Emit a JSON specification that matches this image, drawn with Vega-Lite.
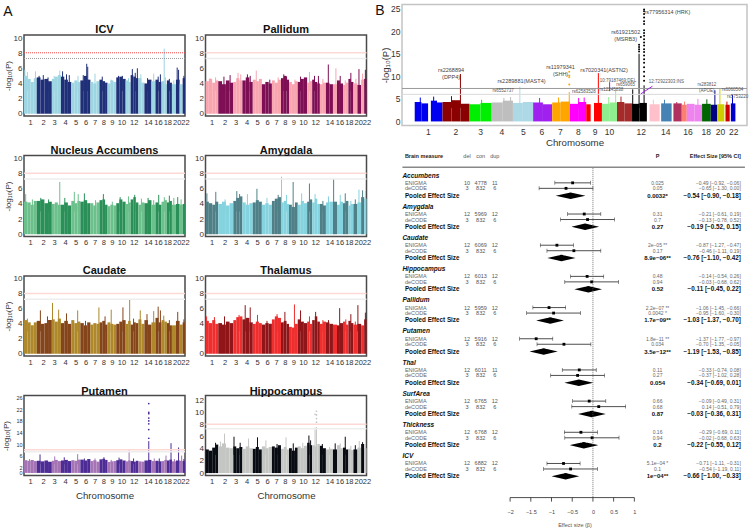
{"$schema":"https://vega.github.io/schema/vega-lite/v6.json","padding":{"left":2,"top":3.5,"right":0,"bottom":0},"background":"white","config":{"font":"Liberation Sans","view":{"stroke":"#4a4a4a","strokeWidth":1.5},"title":{"fontSize":11,"fontWeight":"bold","color":"#111","offset":-1,"anchor":"middle"},"axis":{"grid":false,"domain":false,"ticks":false,"labelFontSize":8,"labelColor":"#333","labelPadding":2,"titleFontWeight":"normal","titleColor":"#333","titleFontSize":8,"labelBound":false,"labelFlush":false}},"datasets":{"chrs":[{"chr":1,"s":0,"e":60,"I":5,"P":4.3,"N":4.3,"A":4.3,"C":4.5,"T":4.4,"U":4.4,"H":3.9},{"chr":1,"s":60,"e":120,"I":4.6,"P":4.6,"N":4.2,"A":4.1,"C":4.2,"T":4.1,"U":4.2,"H":3.7},{"chr":1,"s":120,"e":175,"I":4.2,"P":4.1,"N":3.9,"A":3.9,"C":3.8,"T":4.5,"U":4.5,"H":4.2},{"chr":1,"s":175,"e":228,"I":4.7,"P":4.4,"N":4.4,"A":4.3,"C":4.2,"T":4,"U":4.1,"H":4.7},{"chr":2,"s":228,"e":295,"I":4.8,"P":4.3,"N":4.4,"A":4,"C":4.4,"T":4.1,"U":4.2,"H":4.4},{"chr":2,"s":295,"e":365,"I":4.5,"P":3.9,"N":4.6,"A":4.3,"C":4,"T":3.9,"U":4,"H":4.9},{"chr":2,"s":365,"e":430,"I":4.6,"P":4.4,"N":4.1,"A":3.8,"C":4.1,"T":4.3,"U":4.3,"H":4.2},{"chr":2,"s":430,"e":498,"I":4.3,"P":4.1,"N":4.3,"A":4.1,"C":4.5,"T":4.1,"U":3.9,"H":4.1},{"chr":3,"s":498,"e":550,"I":4.6,"P":4.2,"N":4,"A":4.4,"C":4.6,"T":4.5,"U":4.2,"H":4.4},{"chr":3,"s":550,"e":605,"I":4.9,"P":4.7,"N":4.2,"A":4.8,"C":4.3,"T":4.9,"U":4.5,"H":4.1},{"chr":3,"s":605,"e":660,"I":5.1,"P":4.4,"N":3.9,"A":5,"C":4.7,"T":5,"U":4.1,"H":4.3},{"chr":4,"s":660,"e":720,"I":4.9,"P":4.4,"N":3.9,"A":4.2,"C":4.1,"T":4.6,"U":4.3,"H":4},{"chr":4,"s":720,"e":785,"I":4.5,"P":4.8,"N":4.2,"A":3.9,"C":4.4,"T":4.8,"U":4.5,"H":4.4},{"chr":4,"s":785,"e":846,"I":4.2,"P":4.2,"N":3.8,"A":4.1,"C":4,"T":4.2,"U":4.1,"H":4.1},{"chr":5,"s":846,"e":900,"I":4.1,"P":4.5,"N":4.4,"A":4.2,"C":4.5,"T":4,"U":4.4,"H":4},{"chr":5,"s":900,"e":955,"I":4.4,"P":4.3,"N":4.1,"A":4.5,"C":4.1,"T":4.3,"U":4.2,"H":4.3},{"chr":5,"s":955,"e":1008,"I":4.2,"P":4.6,"N":4.4,"A":4.3,"C":4.3,"T":4.1,"U":4.6,"H":3.9},{"chr":6,"s":1008,"e":1070,"I":4.4,"P":3.9,"N":4.3,"A":3.9,"C":4.1,"T":3.9,"U":4.6,"H":4.4},{"chr":6,"s":1070,"e":1130,"I":5,"P":4.2,"N":4.5,"A":4.1,"C":3.8,"T":4.1,"U":4.3,"H":4.1},{"chr":6,"s":1130,"e":1188,"I":4.5,"P":4,"N":4.1,"A":3.9,"C":4.2,"T":4,"U":4.8,"H":4.3},{"chr":7,"s":1188,"e":1240,"I":4.2,"P":4.4,"N":4.1,"A":4.4,"C":3.9,"T":4.6,"U":4.1,"H":4.4},{"chr":7,"s":1240,"e":1295,"I":4,"P":4.1,"N":3.8,"A":4.7,"C":4.1,"T":5,"U":4.4,"H":4.2},{"chr":7,"s":1295,"e":1350,"I":4.3,"P":4.5,"N":4.2,"A":4.9,"C":4,"T":4.8,"U":3.9,"H":4.6},{"chr":8,"s":1350,"e":1400,"I":4.5,"P":4.7,"N":4.5,"A":4.2,"C":4.2,"T":4.2,"U":4.7,"H":4},{"chr":8,"s":1400,"e":1450,"I":4.3,"P":5,"N":4.6,"A":4.4,"C":4.4,"T":4.4,"U":4.9,"H":4.3},{"chr":8,"s":1450,"e":1494,"I":4.1,"P":4.5,"N":3.9,"A":4,"C":3.9,"T":4,"U":4.5,"H":3.9},{"chr":9,"s":1494,"e":1545,"I":4,"P":4.2,"N":3.7,"A":3.9,"C":4.2,"T":3.6,"U":3.8,"H":4.1},{"chr":9,"s":1545,"e":1600,"I":4.4,"P":3.9,"N":3.9,"A":3.6,"C":4,"T":3.5,"U":4,"H":3.7},{"chr":9,"s":1600,"e":1650,"I":4.2,"P":4.3,"N":3.8,"A":4.2,"C":3.9,"T":4,"U":4.1,"H":4.2},{"chr":10,"s":1650,"e":1705,"I":4.8,"P":4.2,"N":4.1,"A":3.9,"C":4,"T":4.6,"U":4.4,"H":4.4},{"chr":10,"s":1705,"e":1760,"I":4.9,"P":4.6,"N":4.6,"A":4.4,"C":4.3,"T":4.3,"U":4.7,"H":4.1},{"chr":10,"s":1760,"e":1818,"I":4.6,"P":4.8,"N":4.3,"A":4.1,"C":4.5,"T":4.1,"U":4.3,"H":4.5},{"chr":11,"s":1818,"e":1862,"I":4.4,"P":4.1,"N":4,"A":4.3,"C":4,"T":4.3,"U":4,"H":5},{"chr":11,"s":1862,"e":1908,"I":4.2,"P":4.3,"N":4.2,"A":4.6,"C":4.4,"T":4,"U":4.3,"H":4.6},{"chr":12,"s":1908,"e":1955,"I":5.1,"P":4.5,"N":4.6,"A":4.2,"C":3.9,"T":4.5,"U":4.1,"H":4.6},{"chr":12,"s":1955,"e":2000,"I":4.9,"P":4.2,"N":4.9,"A":4.7,"C":4.2,"T":5,"U":3.9,"H":4.4},{"chr":12,"s":2000,"e":2046,"I":4.7,"P":4,"N":4.2,"A":4,"C":4.1,"T":4.3,"U":4.2,"H":4.8},{"chr":13,"s":2046,"e":2100,"I":4.7,"P":3.9,"N":3.9,"A":4,"C":4.6,"T":4,"U":4,"H":4.5},{"chr":13,"s":2100,"e":2154,"I":4.1,"P":4.1,"N":4.2,"A":3.8,"C":4,"T":4.3,"U":3.9,"H":4.1},{"chr":14,"s":2154,"e":2217,"I":4,"P":4.1,"N":4.1,"A":4.2,"C":4.5,"T":4.2,"U":4.3,"H":3.9},{"chr":14,"s":2217,"e":2280,"I":4.5,"P":3.9,"N":4.5,"A":4.3,"C":3.9,"T":4,"U":4.5,"H":4},{"chr":15,"s":2280,"e":2352,"I":4.3,"P":3.9,"N":3.9,"A":4.3,"C":4.2,"T":3.9,"U":4.1,"H":3.9},{"chr":16,"s":2352,"e":2405,"I":4.5,"P":4.4,"N":4.2,"A":3.9,"C":4.8,"T":3.8,"U":4.2,"H":4.6},{"chr":16,"s":2405,"e":2460,"I":4.2,"P":4,"N":3.9,"A":4.3,"C":4.2,"T":4.1,"U":4,"H":4.1},{"chr":17,"s":2460,"e":2510,"I":4.3,"P":3.8,"N":4.3,"A":4.1,"C":4.5,"T":4.3,"U":4.1,"H":4.2},{"chr":17,"s":2510,"e":2556,"I":3.9,"P":4.1,"N":4.5,"A":4.4,"C":4.3,"T":3.9,"U":4.5,"H":3.9},{"chr":18,"s":2556,"e":2600,"I":4.4,"P":4.6,"N":4.2,"A":3.8,"C":4.1,"T":4.4,"U":4.3,"H":4},{"chr":18,"s":2600,"e":2646,"I":4.1,"P":4.2,"N":4.4,"A":4,"C":3.8,"T":4.1,"U":4.6,"H":3.8},{"chr":19,"s":2646,"e":2718,"I":3.9,"P":4,"N":3.9,"A":4,"C":3.8,"T":3.9,"U":4,"H":3.9},{"chr":20,"s":2718,"e":2784,"I":4.5,"P":3.8,"N":4,"A":4.2,"C":4.4,"T":4,"U":4.3,"H":4.2},{"chr":21,"s":2784,"e":2838,"I":3.9,"P":4.5,"N":3.9,"A":4.9,"C":3.9,"T":3.8,"U":4.2,"H":4.8},{"chr":22,"s":2838,"e":2880,"I":4.7,"P":4.6,"N":4,"A":4.7,"C":4.2,"T":4.6,"U":4.1,"H":4.1}],"lines":[{"v":8.05,"k":"r"},{"v":7.3,"k":"g"}],"dI":[{"c":1,"x":15,"y":5.8},{"c":1,"x":60,"y":5.5},{"c":1,"x":205,"y":5.6},{"c":2,"x":270,"y":5},{"c":2,"x":345,"y":5.1},{"c":2,"x":430,"y":4.8},{"c":3,"x":540,"y":5},{"c":3,"x":640,"y":5.7},{"c":4,"x":690,"y":5.6},{"c":4,"x":760,"y":5.2},{"c":4,"x":810,"y":5.1},{"c":5,"x":966,"y":5},{"c":6,"x":1060,"y":5.1},{"c":6,"x":1122,"y":6.6},{"c":6,"x":1140,"y":6.2},{"c":7,"x":1270,"y":5.3},{"c":8,"x":1400,"y":4.9},{"c":9,"x":1560,"y":4.5},{"c":10,"x":1690,"y":5},{"c":10,"x":1760,"y":5},{"c":11,"x":1870,"y":4.7},{"c":12,"x":1938,"y":5.9},{"c":12,"x":1990,"y":5.4},{"c":12,"x":2028,"y":6},{"c":13,"x":2090,"y":5.2},{"c":14,"x":2210,"y":4.7},{"c":15,"x":2320,"y":5.3},{"c":16,"x":2400,"y":4.9},{"c":16,"x":2440,"y":5.2},{"c":17,"x":2508,"y":8.6},{"c":17,"x":2530,"y":4.8},{"c":18,"x":2600,"y":4.6},{"c":19,"x":2680,"y":4.4},{"c":20,"x":2740,"y":6.1},{"c":20,"x":2765,"y":5.8},{"c":22,"x":2860,"y":5}],"dP":[{"c":1,"x":80,"y":4.7},{"c":1,"x":180,"y":4.8},{"c":2,"x":330,"y":4.9},{"c":2,"x":440,"y":5.1},{"c":3,"x":582,"y":5.4},{"c":3,"x":630,"y":5.2},{"c":4,"x":750,"y":5.2},{"c":4,"x":800,"y":5},{"c":5,"x":908,"y":5.7},{"c":6,"x":1150,"y":4.5},{"c":7,"x":1300,"y":4.8},{"c":8,"x":1400,"y":5.2},{"c":8,"x":1450,"y":4.9},{"c":9,"x":1600,"y":4.5},{"c":10,"x":1700,"y":4.9},{"c":11,"x":1860,"y":5.5},{"c":12,"x":1950,"y":5},{"c":12,"x":2020,"y":5},{"c":13,"x":2100,"y":4.6},{"c":14,"x":2197,"y":6.5},{"c":15,"x":2333,"y":6},{"c":16,"x":2410,"y":5},{"c":17,"x":2500,"y":4.4},{"c":18,"x":2600,"y":5.4},{"c":19,"x":2690,"y":4.6},{"c":20,"x":2745,"y":5.9},{"c":21,"x":2810,"y":5.3},{"c":22,"x":2860,"y":5.8}],"dN":[{"c":1,"x":30,"y":5.3},{"c":1,"x":150,"y":4.6},{"c":2,"x":300,"y":4.8},{"c":2,"x":440,"y":4.6},{"c":3,"x":640,"y":6.9},{"c":4,"x":730,"y":4.8},{"c":5,"x":900,"y":5.6},{"c":5,"x":970,"y":5.3},{"c":6,"x":1080,"y":5.4},{"c":7,"x":1280,"y":4.5},{"c":8,"x":1420,"y":5.3},{"c":9,"x":1580,"y":4.3},{"c":10,"x":1720,"y":4.9},{"c":11,"x":1870,"y":5},{"c":12,"x":1980,"y":5.2},{"c":13,"x":2100,"y":4.7},{"c":14,"x":2220,"y":4.8},{"c":15,"x":2320,"y":4.5},{"c":16,"x":2410,"y":5.2},{"c":17,"x":2510,"y":4.9},{"c":18,"x":2600,"y":5.1},{"c":19,"x":2680,"y":4.8},{"c":20,"x":2750,"y":4.9},{"c":21,"x":2810,"y":4.6}],"dA":[{"c":1,"x":25,"y":5.4},{"c":1,"x":184,"y":5.6},{"c":2,"x":350,"y":4.6},{"c":3,"x":560,"y":5.7},{"c":3,"x":610,"y":5.3},{"c":4,"x":750,"y":5.3},{"c":5,"x":920,"y":6},{"c":6,"x":1100,"y":4.8},{"c":7,"x":1300,"y":5.2},{"c":8,"x":1360,"y":7.6},{"c":8,"x":1450,"y":5.2},{"c":9,"x":1568,"y":6.9},{"c":10,"x":1720,"y":5.4},{"c":11,"x":1859,"y":6.7},{"c":12,"x":1960,"y":5.3},{"c":13,"x":2100,"y":4.4},{"c":14,"x":2200,"y":5},{"c":15,"x":2292,"y":7.3},{"c":16,"x":2410,"y":5.2},{"c":17,"x":2500,"y":5.4},{"c":18,"x":2600,"y":4.4},{"c":19,"x":2680,"y":4.6},{"c":20,"x":2745,"y":5.9},{"c":21,"x":2810,"y":5.8},{"c":22,"x":2860,"y":5.7}],"dC":[{"c":1,"x":60,"y":4.7},{"c":2,"x":293,"y":5.8},{"c":2,"x":420,"y":5},{"c":3,"x":510,"y":6.8},{"c":3,"x":620,"y":5.9},{"c":4,"x":760,"y":5.4},{"c":5,"x":960,"y":5.8},{"c":6,"x":1100,"y":4.4},{"c":7,"x":1340,"y":6.2},{"c":8,"x":1450,"y":5},{"c":9,"x":1560,"y":5.9},{"c":10,"x":1770,"y":6.2},{"c":11,"x":1890,"y":7.2},{"c":12,"x":1960,"y":4.7},{"c":13,"x":2080,"y":5.8},{"c":14,"x":2200,"y":5.3},{"c":15,"x":2320,"y":5.7},{"c":16,"x":2400,"y":6.3},{"c":16,"x":2440,"y":5.8},{"c":17,"x":2500,"y":5.1},{"c":18,"x":2600,"y":4.5},{"c":20,"x":2750,"y":5.6},{"c":22,"x":2860,"y":4.6}],"dT":[{"c":1,"x":20,"y":5},{"c":1,"x":160,"y":4.9},{"c":2,"x":340,"y":5},{"c":3,"x":600,"y":5.2},{"c":4,"x":710,"y":6.5},{"c":4,"x":800,"y":6.2},{"c":5,"x":930,"y":5.2},{"c":6,"x":1100,"y":4.4},{"c":7,"x":1280,"y":5.3},{"c":8,"x":1420,"y":5.6},{"c":9,"x":1591,"y":6.6},{"c":10,"x":1700,"y":5.8},{"c":11,"x":1860,"y":5},{"c":12,"x":1970,"y":5.6},{"c":13,"x":2100,"y":4.5},{"c":14,"x":2200,"y":4.5},{"c":16,"x":2400,"y":6.1},{"c":17,"x":2510,"y":4.6},{"c":18,"x":2600,"y":5.3},{"c":19,"x":2680,"y":4.3},{"c":20,"x":2726,"y":6.5},{"c":22,"x":2860,"y":5.5}],"dU":[{"c":1,"x":100,"y":4.8},{"c":2,"x":287,"y":6.4},{"c":3,"x":550,"y":5.7},{"c":4,"x":720,"y":5.4},{"c":5,"x":960,"y":6.5},{"c":6,"x":1080,"y":5},{"c":7,"x":1270,"y":5},{"c":8,"x":1430,"y":5.4},{"c":9,"x":1560,"y":4.5},{"c":10,"x":1700,"y":5.3},{"c":11,"x":1880,"y":7.8},{"c":12,"x":1960,"y":5},{"c":14,"x":2232,"y":11},{"c":14,"x":2232,"y":12,"d":1},{"c":14,"x":2232,"y":15,"d":1},{"c":14,"x":2232,"y":17,"d":1},{"c":14,"x":2232,"y":18,"d":1},{"c":14,"x":2232,"y":19,"d":1},{"c":14,"x":2232,"y":20.5,"d":1},{"c":14,"x":2232,"y":21,"d":1},{"c":14,"x":2232,"y":24,"d":1},{"c":15,"x":2330,"y":5},{"c":16,"x":2420,"y":5},{"c":17,"x":2540,"y":6},{"c":18,"x":2630,"y":10.3},{"c":19,"x":2690,"y":4.8},{"c":20,"x":2765,"y":8.8},{"c":21,"x":2820,"y":6},{"c":22,"x":2860,"y":4.8}],"dH":[{"c":1,"x":180,"y":5},{"c":2,"x":340,"y":6.5},{"c":2,"x":270,"y":5.2},{"c":3,"x":510,"y":6},{"c":3,"x":620,"y":5},{"c":4,"x":770,"y":5.7},{"c":5,"x":930,"y":5.9},{"c":6,"x":1080,"y":5.4},{"c":7,"x":1280,"y":4.8},{"c":8,"x":1440,"y":5.9},{"c":9,"x":1570,"y":4.9},{"c":10,"x":1740,"y":5},{"c":11,"x":1850,"y":6.2},{"c":11,"x":1880,"y":5.4},{"c":12,"x":1960,"y":7.5},{"c":12,"x":1985,"y":7.6},{"c":12,"x":1985,"y":8.4,"d":1},{"c":12,"x":1985,"y":9,"d":1},{"c":12,"x":1985,"y":9.6,"d":1},{"c":12,"x":1985,"y":10.2,"d":1},{"c":12,"x":1960,"y":9.7,"d":1},{"c":13,"x":2090,"y":4.8},{"c":14,"x":2220,"y":4.3},{"c":15,"x":2320,"y":4.9},{"c":16,"x":2410,"y":4.9},{"c":17,"x":2500,"y":6},{"c":18,"x":2600,"y":4.5},{"c":19,"x":2680,"y":4.6},{"c":20,"x":2750,"y":5.3},{"c":21,"x":2810,"y":5.1},{"c":22,"x":2860,"y":4.8}],"bb":[{"chr":1,"s":0,"e":60,"y":4.3},{"chr":1,"s":60,"e":120,"y":4},{"chr":1,"s":145,"e":200,"y":4.6},{"chr":1,"s":200,"e":249,"y":4.2},{"chr":2,"s":249,"e":330,"y":4.3},{"chr":2,"s":330,"e":410,"y":4.7},{"chr":2,"s":410,"e":492,"y":3.9},{"chr":3,"s":492,"e":590,"y":3.8},{"chr":3,"s":590,"e":690,"y":4.1},{"chr":4,"s":690,"e":790,"y":4.2},{"chr":4,"s":790,"e":881,"y":4.6},{"chr":5,"s":881,"e":970,"y":4.1},{"chr":5,"s":970,"e":1062,"y":4.3},{"chr":6,"s":1062,"e":1150,"y":4.2},{"chr":6,"s":1150,"e":1233,"y":3.8},{"chr":7,"s":1233,"e":1310,"y":4.2},{"chr":7,"s":1310,"e":1392,"y":4.4},{"chr":8,"s":1392,"e":1465,"y":3.9},{"chr":8,"s":1465,"e":1538,"y":4.3},{"chr":9,"s":1538,"e":1578,"y":3.8},{"chr":9,"s":1608,"e":1679,"y":4.1},{"chr":10,"s":1679,"e":1750,"y":3.9},{"chr":10,"s":1750,"e":1814,"y":4.2},{"chr":11,"s":1814,"e":1880,"y":4.3},{"chr":11,"s":1880,"e":1949,"y":4},{"chr":12,"s":1949,"e":2015,"y":3.9},{"chr":12,"s":2015,"e":2082,"y":4.1},{"chr":13,"s":2106,"e":2197,"y":3.8},{"chr":14,"s":2210,"e":2304,"y":4},{"chr":15,"s":2320,"e":2395,"y":4},{"chr":16,"s":2395,"e":2440,"y":3.7},{"chr":17,"s":2440,"e":2510,"y":3.9},{"chr":17,"s":2510,"e":2577,"y":3.7},{"chr":18,"s":2577,"e":2655,"y":3.9},{"chr":19,"s":2655,"e":2714,"y":3.7},{"chr":20,"s":2714,"e":2777,"y":3.8},{"chr":21,"s":2787,"e":2825,"y":3.7},{"chr":22,"s":2835,"e":2876,"y":4}],"bs":[{"chr":1,"x":50,"y":5.3},{"chr":1,"x":170,"y":5.5},{"chr":2,"x":330,"y":5.6},{"chr":2,"x":410,"y":10.5},{"chr":3,"x":600,"y":4.8},{"chr":4,"x":800,"y":5.2},{"chr":4,"x":860,"y":5.4},{"chr":5,"x":943,"y":7.7},{"chr":6,"x":1120,"y":5.2},{"chr":7,"x":1290,"y":5.3},{"chr":7,"x":1386,"y":6.5},{"chr":7,"x":1386,"y":8.2,"d":1},{"chr":7,"x":1386,"y":9.8,"d":1},{"chr":7,"x":1386,"y":10.2,"d":1},{"chr":7,"x":1386,"y":11,"d":1},{"chr":8,"x":1470,"y":5.2},{"chr":8,"x":1520,"y":5.3},{"chr":9,"x":1647,"y":10.7},{"chr":10,"x":1740,"y":5.4},{"chr":10,"x":1802,"y":6.9},{"chr":11,"x":1850,"y":5.5},{"chr":12,"x":1955,"y":7.1},{"chr":12,"x":2012,"y":15},{"chr":12,"x":2012,"y":15.5,"d":1},{"chr":12,"x":2012,"y":16,"d":1},{"chr":12,"x":2012,"y":16.5,"d":1},{"chr":12,"x":2012,"y":17,"d":1},{"chr":12,"x":2028,"y":18.7,"d":1},{"chr":12,"x":2057,"y":8},{"chr":12,"x":2057,"y":9,"d":1},{"chr":12,"x":2057,"y":10,"d":1},{"chr":12,"x":2057,"y":11,"d":1},{"chr":12,"x":2057,"y":12,"d":1},{"chr":12,"x":2057,"y":13,"d":1},{"chr":12,"x":2057,"y":13.8,"d":1},{"chr":12,"x":2057,"y":14.6,"d":1},{"chr":12,"x":2057,"y":15.4,"d":1},{"chr":12,"x":2057,"y":16,"d":1},{"chr":12,"x":2057,"y":16.8,"d":1},{"chr":12,"x":2057,"y":17.5,"d":1},{"chr":12,"x":2057,"y":18.2,"d":1},{"chr":12,"x":2057,"y":19,"d":1},{"chr":12,"x":2057,"y":19.6,"d":1},{"chr":12,"x":2057,"y":20.2,"d":1},{"chr":12,"x":2057,"y":21.6,"d":1},{"chr":12,"x":2057,"y":22.2,"d":1},{"chr":12,"x":2057,"y":23,"d":1},{"chr":12,"x":2057,"y":23.8,"d":1},{"chr":12,"x":2057,"y":24.4,"d":1},{"chr":12,"x":2057,"y":24.8,"d":1},{"chr":13,"x":2140,"y":4.8},{"chr":14,"x":2240,"y":4.8},{"chr":15,"x":2350,"y":4.3},{"chr":16,"x":2420,"y":4.4},{"chr":17,"x":2540,"y":5},{"chr":18,"x":2620,"y":4.9},{"chr":19,"x":2692,"y":6.9},{"chr":20,"x":2737,"y":7.2},{"chr":21,"x":2800,"y":4.4},{"chr":22,"x":2850,"y":6}],"bl":[{"t":"rs2268894","x":326,"y":11.3,"z":0},{"t":"(DPP4)","x":326,"y":9.9,"z":0},{"t":"rs2289881(MAST4)","x":958,"y":8.9,"z":0},{"t":"rs6552737","x":793,"y":6.65,"z":1},{"t":"rs11979341","x":1308,"y":12.05,"z":0},{"t":"(SHH)","x":1308,"y":10.6,"z":0},{"t":"rs7020341(ASTN2)","x":1698,"y":11.5,"z":0},{"t":"rs62583528","x":1518,"y":6.6,"z":1},{"t":"10:79187469:DEL","x":1823,"y":9,"z":1},{"t":"rs12245838","x":1763,"y":7,"z":1},{"t":"rs659065","x":1892,"y":8,"z":1},{"t":"12:72922303:INS","x":2257,"y":8.7,"z":1},{"t":"rs61921502","x":1892,"y":19.9,"z":0},{"t":"(MSRB3)","x":1892,"y":18.3,"z":0},{"t":"rs77956314  (HRK)","x":2266,"y":24.3,"z":0},{"t":"rs283812","x":2620,"y":8.1,"z":1},{"t":"(APOE)","x":2620,"y":6.7,"z":1},{"t":"rs6060504","x":2850,"y":6.9,"z":1},{"t":"rs5753220","x":2895,"y":5.5,"z":1}],"bc":[{"x":2132,"x2":2027,"y":7.8,"y2":6.1},{"x":1748,"x2":1748,"y":8.7,"y2":6.7}],"f":[{"k":"h","r":-10.4,"l":"Brain measure","d":"del","n":"con","u":"dup","p":"P","ci":"Effect Size [95% CI]"},{"k":"g","r":0,"l":"Accumbens"},{"k":"s","r":4,"l":"ENIGMA","d":"10","n":"4778","u":"11","p":"0.025","b":-0.49,"lo":-0.92,"hi":-0.06,"ci":"−0.49 [−0.92, −0.06]"},{"k":"s","r":7,"l":"deCODE","d":"3","n":"832","u":"6","p":"0.05","b":-0.65,"lo":-1.3,"hi":0,"ci":"−0.65 [−1.30, 0.00]"},{"k":"o","r":11,"l":"Pooled Effect Size","p":"0.0032*","b":-0.54,"lo":-0.9,"hi":-0.18,"ci":"−0.54 [−0.90, −0.18]"},{"k":"g","r":17,"l":"Amygdala"},{"k":"s","r":21,"l":"ENIGMA","d":"12","n":"5969","u":"12","p":"0.31","b":-0.21,"lo":-0.61,"hi":0.19,"ci":"−0.21 [−0.61, 0.19]"},{"k":"s","r":24,"l":"deCODE","d":"3","n":"832","u":"6","p":"0.7","b":-0.13,"lo":-0.78,"hi":0.52,"ci":"−0.13 [−0.78, 0.52]"},{"k":"o","r":28,"l":"Pooled Effect Size","p":"0.27","b":-0.19,"lo":-0.52,"hi":0.15,"ci":"−0.19 [−0.52, 0.15]"},{"k":"g","r":34,"l":"Caudate"},{"k":"s","r":38,"l":"ENIGMA","d":"12","n":"6069","u":"12","p":"2e−05 **","b":-0.87,"lo":-1.27,"hi":-0.47,"ci":"−0.87 [−1.27, −0.47]"},{"k":"s","r":41,"l":"deCODE","d":"3","n":"832","u":"6","p":"0.17","b":-0.46,"lo":-1.11,"hi":0.19,"ci":"−0.46 [−1.11, 0.19]"},{"k":"o","r":45,"l":"Pooled Effect Size","p":"8.9e−06**","b":-0.76,"lo":-1.1,"hi":-0.42,"ci":"−0.76 [−1.10, −0.42]"},{"k":"g","r":51,"l":"Hippocampus"},{"k":"s","r":55,"l":"ENIGMA","d":"12","n":"6013","u":"12","p":"0.48","b":-0.14,"lo":-0.54,"hi":0.26,"ci":"−0.14 [−0.54, 0.26]"},{"k":"s","r":58,"l":"deCODE","d":"3","n":"832","u":"6","p":"0.94","b":-0.03,"lo":-0.68,"hi":0.62,"ci":"−0.03 [−0.68, 0.62]"},{"k":"o","r":62,"l":"Pooled Effect Size","p":"0.52","b":-0.11,"lo":-0.45,"hi":0.22,"ci":"−0.11 [−0.45, 0.22]"},{"k":"g","r":68,"l":"Pallidum"},{"k":"s","r":72,"l":"ENIGMA","d":"12","n":"5959","u":"12","p":"2.2e−07 **","b":-1.06,"lo":-1.45,"hi":-0.66,"ci":"−1.06 [−1.45, −0.66]"},{"k":"s","r":75,"l":"deCODE","d":"3","n":"832","u":"6","p":"0.0042 *","b":-0.95,"lo":-1.6,"hi":-0.3,"ci":"−0.95 [−1.60, −0.30]"},{"k":"o","r":79,"l":"Pooled Effect Size","p":"1.7e−09**","b":-1.03,"lo":-1.37,"hi":-0.7,"ci":"−1.03 [−1.37, −0.70]"},{"k":"g","r":85,"l":"Putamen"},{"k":"s","r":89,"l":"ENIGMA","d":"12","n":"5916","u":"12","p":"1.8e−11 **","b":-1.37,"lo":-1.77,"hi":-0.97,"ci":"−1.37 [−1.77, −0.97]"},{"k":"s","r":92,"l":"deCODE","d":"3","n":"832","u":"6","p":"0.034","b":-0.7,"lo":-1.35,"hi":-0.05,"ci":"−0.70 [−1.35, −0.05]"},{"k":"o","r":96,"l":"Pooled Effect Size","p":"3.5e−12**","b":-1.19,"lo":-1.53,"hi":-0.85,"ci":"−1.19 [−1.53, −0.85]"},{"k":"g","r":102,"l":"Thal"},{"k":"s","r":106,"l":"ENIGMA","d":"12","n":"6011","u":"11","p":"0.11","b":-0.33,"lo":-0.74,"hi":0.08,"ci":"−0.33 [−0.74, 0.08]"},{"k":"s","r":109,"l":"deCODE","d":"3","n":"832","u":"6","p":"0.27","b":-0.37,"lo":-1.02,"hi":0.28,"ci":"−0.37 [−1.02, 0.28]"},{"k":"o","r":113,"l":"Pooled Effect Size","p":"0.054","b":-0.34,"lo":-0.69,"hi":0.01,"ci":"−0.34 [−0.69, 0.01]"},{"k":"g","r":119,"l":"SurfArea"},{"k":"s","r":123,"l":"ENIGMA","d":"12","n":"6765","u":"12","p":"0.66","b":-0.09,"lo":-0.49,"hi":0.31,"ci":"−0.09 [−0.49, 0.31]"},{"k":"s","r":126,"l":"deCODE","d":"3","n":"832","u":"6","p":"0.68","b":0.14,"lo":-0.51,"hi":0.79,"ci":"0.14 [−0.51, 0.79]"},{"k":"o","r":130,"l":"Pooled Effect Size","p":"0.87","b":-0.03,"lo":-0.36,"hi":0.31,"ci":"−0.03 [−0.36, 0.31]"},{"k":"g","r":136,"l":"Thickness"},{"k":"s","r":140,"l":"ENIGMA","d":"12","n":"6768","u":"12","p":"0.16","b":-0.29,"lo":-0.69,"hi":0.11,"ci":"−0.29 [−0.69, 0.11]"},{"k":"s","r":143,"l":"deCODE","d":"3","n":"832","u":"6","p":"0.94","b":-0.02,"lo":-0.68,"hi":0.63,"ci":"−0.02 [−0.68, 0.63]"},{"k":"o","r":147,"l":"Pooled Effect Size","p":"0.2","b":-0.22,"lo":-0.55,"hi":0.12,"ci":"−0.22 [−0.55, 0.12]"},{"k":"g","r":153,"l":"ICV"},{"k":"s","r":157,"l":"ENIGMA","d":"12","n":"6882","u":"12","p":"5.1e−04 *","b":-0.71,"lo":-1.11,"hi":-0.31,"ci":"−0.71 [−1.11, −0.31]"},{"k":"s","r":160,"l":"deCODE","d":"3","n":"832","u":"6","p":"0.1","b":-0.54,"lo":-1.19,"hi":0.11,"ci":"−0.54 [−1.19, 0.11]"},{"k":"o","r":164,"l":"Pooled Effect Size","p":"1e−04**","b":-0.66,"lo":-1,"hi":-0.33,"ci":"−0.66 [−1.00, −0.33]"}]},"hconcat":[{"vconcat":[{"width":161,"height":18,"view":{"stroke":null},"data":{"values":[{"t":"A"}]},"mark":{"type":"text","fontSize":14,"color":"#111"},"encoding":{"text":{"field":"t"},"x":{"datum":-16,"scale":{"domain":[0,161],"nice":false},"axis":null},"y":{"datum":7,"scale":{"domain":[0,18],"reverse":true,"nice":false},"axis":null}}},{"hconcat":[{"vconcat":[{"width":161,"height":81,"title":"ICV","layer":[{"data":{"name":"chrs"},"mark":"rect","encoding":{"x":{"field":"s","type":"quantitative","scale":{"domain":[0,2880],"nice":false},"axis":{"title":null,"tickCount":30,"labelOverlap":false,"labelFontSize":7.5,"values":[108,341,539,737,923,1102,1264,1420,1569,1743,1964,2216,2396,2564,2731,2880],"labelExpr":"[1,2,3,4,5,6,7,8,9,10,12,14,16,18,20,22][indexof([108,341,539,737,923,1102,1264,1420,1569,1743,1964,2216,2396,2564,2731,2880],datum.value)]"}},"x2":{"field":"e"},"y":{"field":"I","type":"quantitative","scale":{"domain":[-0.3,10.4],"nice":false},"axis":{"title":"-log₁₀(P)","tickCount":30,"labelOverlap":false,"format":"d","values":[0,2,4,6,8,10],"titlePadding":1}},"y2":{"datum":0},"color":{"condition":{"test":"datum.chr%2==1","value":"#9dd5e2"},"value":"#1f2f78"}}},{"data":{"name":"dI"},"mark":{"type":"rule","strokeWidth":1},"encoding":{"x":{"field":"x","type":"quantitative"},"y":{"field":"y","type":"quantitative"},"y2":{"datum":3},"color":{"condition":{"test":"datum.c%2==1","value":"#9dd5e2"},"value":"#1f2f78"}}},{"data":{"name":"lines"},"mark":{"type":"rule","strokeWidth":1,"strokeDash":[1,1]},"encoding":{"y":{"field":"v","type":"quantitative"},"color":{"condition":{"test":"datum.k=='r'","value":"#f24a4a"},"value":"#999999"}}}]},{"width":161,"height":81,"title":"Nucleus Accumbens","layer":[{"data":{"name":"chrs"},"mark":"rect","encoding":{"x":{"field":"s","type":"quantitative","scale":{"domain":[0,2880],"nice":false},"axis":{"title":null,"tickCount":30,"labelOverlap":false,"labelFontSize":7.5,"values":[108,341,539,737,923,1102,1264,1420,1569,1743,1964,2216,2396,2564,2731,2880],"labelExpr":"[1,2,3,4,5,6,7,8,9,10,12,14,16,18,20,22][indexof([108,341,539,737,923,1102,1264,1420,1569,1743,1964,2216,2396,2564,2731,2880],datum.value)]"}},"x2":{"field":"e"},"y":{"field":"N","type":"quantitative","scale":{"domain":[-0.3,10.4],"nice":false},"axis":{"title":"-log₁₀(P)","tickCount":30,"labelOverlap":false,"format":"d","values":[0,2,4,6,8,10],"titlePadding":1}},"y2":{"datum":0},"color":{"condition":{"test":"datum.chr%2==1","value":"#6cc08b"},"value":"#2a9058"}}},{"data":{"name":"dN"},"mark":{"type":"rule","strokeWidth":1},"encoding":{"x":{"field":"x","type":"quantitative"},"y":{"field":"y","type":"quantitative"},"y2":{"datum":3},"color":{"condition":{"test":"datum.c%2==1","value":"#6cc08b"},"value":"#2a9058"}}},{"data":{"name":"lines"},"mark":{"type":"rule","strokeWidth":1.5},"encoding":{"y":{"field":"v","type":"quantitative"},"color":{"condition":{"test":"datum.k=='r'","value":"#fdd9d6"},"value":"#eeeeee"}}}]},{"width":161,"height":80,"title":"Caudate","layer":[{"data":{"name":"chrs"},"mark":"rect","encoding":{"x":{"field":"s","type":"quantitative","scale":{"domain":[0,2880],"nice":false},"axis":{"title":null,"tickCount":30,"labelOverlap":false,"labelFontSize":7.5,"values":[108,341,539,737,923,1102,1264,1420,1569,1743,1964,2216,2396,2564,2731,2880],"labelExpr":"[1,2,3,4,5,6,7,8,9,10,12,14,16,18,20,22][indexof([108,341,539,737,923,1102,1264,1420,1569,1743,1964,2216,2396,2564,2731,2880],datum.value)]"}},"x2":{"field":"e"},"y":{"field":"C","type":"quantitative","scale":{"domain":[-0.3,10.4],"nice":false},"axis":{"title":"-log₁₀(P)","tickCount":30,"labelOverlap":false,"format":"d","values":[0,2,4,6,8,10],"titlePadding":1}},"y2":{"datum":0},"color":{"condition":{"test":"datum.chr%2==1","value":"#ae882a"},"value":"#84451a"}}},{"data":{"name":"dC"},"mark":{"type":"rule","strokeWidth":1},"encoding":{"x":{"field":"x","type":"quantitative"},"y":{"field":"y","type":"quantitative"},"y2":{"datum":3},"color":{"condition":{"test":"datum.c%2==1","value":"#ae882a"},"value":"#84451a"}}},{"data":{"name":"lines"},"mark":{"type":"rule","strokeWidth":1.5},"encoding":{"y":{"field":"v","type":"quantitative"},"color":{"condition":{"test":"datum.k=='r'","value":"#fdd9d6"},"value":"#eeeeee"}}}]},{"width":161,"height":80,"title":"Putamen","layer":[{"data":{"name":"chrs"},"mark":"rect","encoding":{"x":{"field":"s","type":"quantitative","scale":{"domain":[0,2880],"nice":false},"axis":{"title":"Chromosome","titleFontSize":9.7,"titlePadding":5,"tickCount":30,"labelOverlap":false,"labelFontSize":7.5,"values":[108,341,539,737,923,1102,1264,1420,1569,1743,1964,2216,2396,2564,2731,2880],"labelExpr":"[1,2,3,4,5,6,7,8,9,10,12,14,16,18,20,22][indexof([108,341,539,737,923,1102,1264,1420,1569,1743,1964,2216,2396,2564,2731,2880],datum.value)]"}},"x2":{"field":"e"},"y":{"field":"U","type":"quantitative","scale":{"domain":[-0.9,26.8],"nice":false},"axis":{"title":"-log₁₀(P)","tickCount":30,"labelOverlap":false,"labelFontSize":5.5,"format":"d","values":[0,2,6,10,14,18,22,26],"titlePadding":5}},"y2":{"datum":0},"color":{"condition":{"test":"datum.chr%2==1","value":"#a574b5"},"value":"#4d2c96"}}},{"data":{"name":"dU"},"transform":[{"filter":"!datum.d"}],"mark":{"type":"rule","strokeWidth":1},"encoding":{"x":{"field":"x","type":"quantitative"},"y":{"field":"y","type":"quantitative"},"y2":{"datum":3},"color":{"condition":{"test":"datum.c%2==1","value":"#a574b5"},"value":"#4d2c96"}}},{"data":{"name":"dU"},"transform":[{"filter":"datum.d"}],"mark":{"type":"circle","size":3,"opacity":1},"encoding":{"x":{"field":"x","type":"quantitative"},"y":{"field":"y","type":"quantitative"},"color":{"value":"#4d2c96"}}},{"data":{"name":"lines"},"mark":{"type":"rule","strokeWidth":1.5},"encoding":{"y":{"field":"v","type":"quantitative"},"color":{"condition":{"test":"datum.k=='r'","value":"#fdd9d6"},"value":"#eeeeee"}}}]}],"spacing":39.5,"bounds":"flush"},{"vconcat":[{"width":161,"height":81,"title":"Pallidum","layer":[{"data":{"name":"chrs"},"mark":"rect","encoding":{"x":{"field":"s","type":"quantitative","scale":{"domain":[0,2880],"nice":false},"axis":{"title":null,"tickCount":30,"labelOverlap":false,"labelFontSize":7.5,"values":[108,341,539,737,923,1102,1264,1420,1569,1743,1964,2216,2396,2564,2731,2880],"labelExpr":"[1,2,3,4,5,6,7,8,9,10,12,14,16,18,20,22][indexof([108,341,539,737,923,1102,1264,1420,1569,1743,1964,2216,2396,2564,2731,2880],datum.value)]"}},"x2":{"field":"e"},"y":{"field":"P","type":"quantitative","scale":{"domain":[-0.3,10.4],"nice":false},"axis":{"title":null,"tickCount":30,"labelOverlap":false,"format":"d","values":[0,2,4,6,8,10]}},"y2":{"datum":0},"color":{"condition":{"test":"datum.chr%2==1","value":"#f8a5b0"},"value":"#7e0f55"}}},{"data":{"name":"dP"},"mark":{"type":"rule","strokeWidth":1},"encoding":{"x":{"field":"x","type":"quantitative"},"y":{"field":"y","type":"quantitative"},"y2":{"datum":3},"color":{"condition":{"test":"datum.c%2==1","value":"#f8a5b0"},"value":"#7e0f55"}}},{"data":{"name":"lines"},"mark":{"type":"rule","strokeWidth":1.5},"encoding":{"y":{"field":"v","type":"quantitative"},"color":{"condition":{"test":"datum.k=='r'","value":"#fdd9d6"},"value":"#eeeeee"}}}]},{"width":161,"height":81,"title":"Amygdala","layer":[{"data":{"name":"chrs"},"mark":"rect","encoding":{"x":{"field":"s","type":"quantitative","scale":{"domain":[0,2880],"nice":false},"axis":{"title":null,"tickCount":30,"labelOverlap":false,"labelFontSize":7.5,"values":[108,341,539,737,923,1102,1264,1420,1569,1743,1964,2216,2396,2564,2731,2880],"labelExpr":"[1,2,3,4,5,6,7,8,9,10,12,14,16,18,20,22][indexof([108,341,539,737,923,1102,1264,1420,1569,1743,1964,2216,2396,2564,2731,2880],datum.value)]"}},"x2":{"field":"e"},"y":{"field":"A","type":"quantitative","scale":{"domain":[-0.3,10.4],"nice":false},"axis":{"title":null,"tickCount":30,"labelOverlap":false,"format":"d","values":[0,2,4,6,8,10]}},"y2":{"datum":0},"color":{"condition":{"test":"datum.chr%2==1","value":"#4f8088"},"value":"#85d3df"}}},{"data":{"name":"dA"},"mark":{"type":"rule","strokeWidth":1},"encoding":{"x":{"field":"x","type":"quantitative"},"y":{"field":"y","type":"quantitative"},"y2":{"datum":3},"color":{"condition":{"test":"datum.c%2==1","value":"#4f8088"},"value":"#85d3df"}}},{"data":{"name":"lines"},"mark":{"type":"rule","strokeWidth":1.5},"encoding":{"y":{"field":"v","type":"quantitative"},"color":{"condition":{"test":"datum.k=='r'","value":"#fdd9d6"},"value":"#eeeeee"}}}]},{"width":161,"height":80,"title":"Thalamus","layer":[{"data":{"name":"chrs"},"mark":"rect","encoding":{"x":{"field":"s","type":"quantitative","scale":{"domain":[0,2880],"nice":false},"axis":{"title":null,"tickCount":30,"labelOverlap":false,"labelFontSize":7.5,"values":[108,341,539,737,923,1102,1264,1420,1569,1743,1964,2216,2396,2564,2731,2880],"labelExpr":"[1,2,3,4,5,6,7,8,9,10,12,14,16,18,20,22][indexof([108,341,539,737,923,1102,1264,1420,1569,1743,1964,2216,2396,2564,2731,2880],datum.value)]"}},"x2":{"field":"e"},"y":{"field":"T","type":"quantitative","scale":{"domain":[-0.3,10.4],"nice":false},"axis":{"title":null,"tickCount":30,"labelOverlap":false,"format":"d","values":[0,2,4,6,8,10]}},"y2":{"datum":0},"color":{"condition":{"test":"datum.chr%2==1","value":"#f02e2e"},"value":"#8f1518"}}},{"data":{"name":"dT"},"mark":{"type":"rule","strokeWidth":1},"encoding":{"x":{"field":"x","type":"quantitative"},"y":{"field":"y","type":"quantitative"},"y2":{"datum":3},"color":{"condition":{"test":"datum.c%2==1","value":"#f02e2e"},"value":"#8f1518"}}},{"data":{"name":"lines"},"mark":{"type":"rule","strokeWidth":1.5},"encoding":{"y":{"field":"v","type":"quantitative"},"color":{"condition":{"test":"datum.k=='r'","value":"#fdd9d6"},"value":"#eeeeee"}}}]},{"width":161,"height":80,"title":"Hippocampus","layer":[{"data":{"name":"chrs"},"mark":"rect","encoding":{"x":{"field":"s","type":"quantitative","scale":{"domain":[0,2880],"nice":false},"axis":{"title":"Chromosome","titleFontSize":9.7,"titlePadding":5,"tickCount":30,"labelOverlap":false,"labelFontSize":7.5,"values":[108,341,539,737,923,1102,1264,1420,1569,1743,1964,2216,2396,2564,2731,2880],"labelExpr":"[1,2,3,4,5,6,7,8,9,10,12,14,16,18,20,22][indexof([108,341,539,737,923,1102,1264,1420,1569,1743,1964,2216,2396,2564,2731,2880],datum.value)]"}},"x2":{"field":"e"},"y":{"field":"H","type":"quantitative","scale":{"domain":[-0.4,12.8],"nice":false},"axis":{"title":null,"tickCount":30,"labelOverlap":false,"format":"d","values":[0,2,4,6,8,10,12]}},"y2":{"datum":0},"color":{"condition":{"test":"datum.chr%2==1","value":"#0a0c14"},"value":"#c4c6c4"}}},{"data":{"name":"dH"},"transform":[{"filter":"!datum.d"}],"mark":{"type":"rule","strokeWidth":1},"encoding":{"x":{"field":"x","type":"quantitative"},"y":{"field":"y","type":"quantitative"},"y2":{"datum":3},"color":{"condition":{"test":"datum.c%2==1","value":"#0a0c14"},"value":"#c4c6c4"}}},{"data":{"name":"dH"},"transform":[{"filter":"datum.d"}],"mark":{"type":"circle","size":3,"opacity":1},"encoding":{"x":{"field":"x","type":"quantitative"},"y":{"field":"y","type":"quantitative"},"color":{"value":"#c4c6c4"}}},{"data":{"name":"lines"},"mark":{"type":"rule","strokeWidth":1.5},"encoding":{"y":{"field":"v","type":"quantitative"},"color":{"condition":{"test":"datum.k=='r'","value":"#fdd9d6"},"value":"#eeeeee"}}}]}],"spacing":39.5,"bounds":"flush"}],"spacing":3.5}],"spacing":0.5},{"vconcat":[{"width":345,"height":121,"view":{"stroke":"#c4c4c4","strokeWidth":1.5},"layer":[{"data":{"name":"bb"},"mark":"rect","encoding":{"x":{"field":"s","type":"quantitative","scale":{"domain":[-114,2980],"nice":false},"axis":{"title":"Chromosome","titleFontSize":9.7,"titlePadding":1,"labelFontSize":8.5,"tickCount":30,"labelOverlap":false,"values":[117,365,587,778,970,1135,1302,1464,1614,1743,2027,2246,2446,2611,2737,2856],"labelExpr":"[1,2,3,4,5,6,7,8,9,10,12,14,16,18,20,22][indexof([117,365,587,778,970,1135,1302,1464,1614,1743,2027,2246,2446,2611,2737,2856],datum.value)]"}},"x2":{"field":"e"},"y":{"field":"y","type":"quantitative","scale":{"domain":[-0.9,25.9],"nice":false},"axis":{"title":"-log₁₀(P)","titleFontSize":9.5,"titlePadding":0,"labelFontSize":8.5,"tickCount":30,"labelOverlap":false,"format":"d","values":[0,5,10,15,20,25]}},"y2":{"datum":0},"color":{"field":"chr","type":"nominal","legend":null,"scale":{"domain":[1,2,3,4,5,6,7,8,9,10,11,12,13,14,15,16,17,18,19,20,21,22],"range":["#0000f0","#8b0000","#00ee00","#bebebe","#add8e6","#a020f0","#ffa500","#ff00ff","#ff0000","#90ee90","#a52a2a","#000000","#ffc0cb","#4682b4","#b03060","#fa8072","#ee82ee","#006400","#000080","#cdcd00","#cd0000","#0000cd"]}}}},{"data":{"name":"bs"},"transform":[{"filter":"!datum.d"}],"mark":{"type":"rule","strokeWidth":1},"encoding":{"x":{"field":"x","type":"quantitative"},"y":{"field":"y","type":"quantitative"},"y2":{"datum":3},"color":{"field":"chr","type":"nominal","legend":null}}},{"data":{"name":"bs"},"transform":[{"filter":"datum.d"}],"mark":{"type":"circle","size":4,"opacity":1},"encoding":{"x":{"field":"x","type":"quantitative"},"y":{"field":"y","type":"quantitative"},"color":{"field":"chr","type":"nominal","legend":null}}},{"data":{"values":[{"v":7.3,"k":"a"},{"v":6,"k":"b"}]},"mark":{"type":"rule","strokeWidth":1},"encoding":{"y":{"field":"v","type":"quantitative"},"color":{"condition":{"test":"datum.k=='a'","value":"#9a9a9a"},"value":"#d8d8d8"}}},{"data":{"name":"bc"},"mark":{"type":"rule","strokeWidth":1,"color":"#a020f0"},"encoding":{"x":{"field":"x","type":"quantitative"},"x2":{"field":"x2"},"y":{"field":"y","type":"quantitative"},"y2":{"field":"y2"}}},{"data":{"name":"bl"},"transform":[{"filter":"datum.z==0"}],"mark":{"type":"text","fontSize":5.5,"color":"#444"},"encoding":{"text":{"field":"t"},"x":{"field":"x","type":"quantitative"},"y":{"field":"y","type":"quantitative"}}},{"data":{"name":"bl"},"transform":[{"filter":"datum.z==1"}],"mark":{"type":"text","fontSize":4.5,"color":"#555"},"encoding":{"text":{"field":"t"},"x":{"field":"x","type":"quantitative"},"y":{"field":"y","type":"quantitative"}}},{"data":{"values":[{"t":"B"}]},"mark":{"type":"text","fontSize":14,"color":"#111"},"encoding":{"text":{"field":"t"},"x":{"datum":-311,"scale":{"domain":[-114,2980],"nice":false}},"y":{"datum":24.35,"scale":{"domain":[-0.9,25.9],"nice":false}}}}]},{"width":345,"height":376,"view":{"stroke":null},"data":{"name":"f"},"encoding":{"y":{"field":"r","type":"quantitative","scale":{"domain":[-12,193],"reverse":true,"nice":false},"axis":null}},"layer":[{"transform":[{"filter":"datum.k=='s'"}],"mark":{"type":"rule","strokeWidth":0.8,"color":"#222"},"encoding":{"x":{"field":"lo","type":"quantitative","scale":{"domain":[-4.61,3.72],"nice":false},"axis":{"title":"Effect size (β)","titleFontSize":5.5,"titlePadding":7,"titleColor":"#555","labelFontSize":5.5,"labelColor":"#444","labelPadding":12,"offset":-32,"tickCount":30,"labelOverlap":false,"values":[-2,-1.5,-1,-0.5,0,0.5,1],"labelExpr":"replace(datum.value+'','-','−')"}},"x2":{"field":"hi"}}},{"transform":[{"filter":"datum.k=='s'"}],"mark":{"type":"tick","orient":"vertical","size":4,"thickness":0.7,"color":"#222"},"encoding":{"x":{"field":"lo","type":"quantitative"}}},{"transform":[{"filter":"datum.k=='s'"}],"mark":{"type":"tick","orient":"vertical","size":4,"thickness":0.7,"color":"#222"},"encoding":{"x":{"field":"hi","type":"quantitative"}}},{"transform":[{"filter":"datum.k=='s'"}],"mark":{"type":"square","size":8,"opacity":1,"color":"#000"},"encoding":{"x":{"field":"b","type":"quantitative"}}},{"transform":[{"filter":"datum.k=='o'"},{"fold":["lo","b","hi"],"as":["key","v"]},{"calculate":"datum.key=='b'?6.5:0.01","as":"w"}],"mark":{"type":"trail","color":"#000"},"encoding":{"x":{"field":"v","type":"quantitative"},"detail":{"field":"r"},"order":{"field":"v"},"size":{"field":"w","type":"quantitative","scale":null,"legend":null}}},{"data":{"values":[{"v":0,"r":-4,"r2":175.6}]},"mark":{"type":"rule","strokeWidth":0.8,"color":"#555","strokeDash":[1,1]},"encoding":{"x":{"field":"v","type":"quantitative"},"y2":{"field":"r2"}}},{"data":{"values":[{"a":-4.6,"b":3.67,"r":-4.5}]},"mark":{"type":"rule","strokeWidth":1.5,"color":"#888"},"encoding":{"x":{"field":"a","type":"quantitative"},"x2":{"field":"b"}}},{"data":{"values":[{"a":-2,"b":1,"r":175.6}]},"mark":{"type":"rule","strokeWidth":0.8,"color":"#222"},"encoding":{"x":{"field":"a","type":"quantitative"},"x2":{"field":"b"}}},{"data":{"values":[{"v":-2,"r":175.6,"r2":177.8},{"v":-1.5,"r":175.6,"r2":177.8},{"v":-1,"r":175.6,"r2":177.8},{"v":-0.5,"r":175.6,"r2":177.8},{"v":0,"r":175.6,"r2":177.8},{"v":0.5,"r":175.6,"r2":177.8},{"v":1,"r":175.6,"r2":177.8}]},"mark":{"type":"rule","strokeWidth":0.8,"color":"#222"},"encoding":{"x":{"field":"v","type":"quantitative"},"y2":{"field":"r2"}}},{"transform":[{"filter":"datum.k=='g'"}],"mark":{"type":"text","fontSize":6.5,"fontWeight":"bold","fontStyle":"italic","align":"left","color":"#111"},"encoding":{"text":{"field":"l"},"x":{"datum":-4.6}}},{"transform":[{"filter":"datum.k=='s'"}],"mark":{"type":"text","fontSize":5.5,"align":"left","color":"#666"},"encoding":{"text":{"field":"l"},"x":{"datum":-4.54}}},{"transform":[{"filter":"datum.k=='o'"}],"mark":{"type":"text","fontSize":6.3,"fontWeight":"bold","align":"left","color":"#111"},"encoding":{"text":{"field":"l"},"x":{"datum":-4.54}}},{"transform":[{"filter":"datum.k=='h'"}],"mark":{"type":"text","fontSize":5.5,"fontWeight":"bold","align":"left","color":"#222"},"encoding":{"text":{"field":"l"},"x":{"datum":-4.54}}},{"transform":[{"filter":"datum.k=='s'||datum.k=='h'"}],"mark":{"type":"text","fontSize":5.5,"color":"#555"},"encoding":{"text":{"field":"d"},"x":{"datum":-3.04}}},{"transform":[{"filter":"datum.k=='s'||datum.k=='h'"}],"mark":{"type":"text","fontSize":5.5,"color":"#555"},"encoding":{"text":{"field":"n"},"x":{"datum":-2.71}}},{"transform":[{"filter":"datum.k=='s'||datum.k=='h'"}],"mark":{"type":"text","fontSize":5.5,"color":"#555"},"encoding":{"text":{"field":"u"},"x":{"datum":-2.37}}},{"transform":[{"filter":"datum.k=='s'"}],"mark":{"type":"text","fontSize":5,"color":"#666"},"encoding":{"text":{"field":"p"},"x":{"datum":1.56}}},{"transform":[{"filter":"datum.k=='o'"}],"mark":{"type":"text","fontSize":6,"fontWeight":"bold","color":"#111"},"encoding":{"text":{"field":"p"},"x":{"datum":1.56}}},{"transform":[{"filter":"datum.k=='h'"}],"mark":{"type":"text","fontSize":5.5,"fontWeight":"bold","color":"#222"},"encoding":{"text":{"field":"p"},"x":{"datum":1.56}}},{"transform":[{"filter":"datum.k=='s'"}],"mark":{"type":"text","fontSize":5,"align":"right","color":"#666"},"encoding":{"text":{"field":"ci"},"x":{"datum":3.57}}},{"transform":[{"filter":"datum.k=='o'"}],"mark":{"type":"text","fontSize":6.3,"fontWeight":"bold","align":"right","color":"#111"},"encoding":{"text":{"field":"ci"},"x":{"datum":3.57}}},{"transform":[{"filter":"datum.k=='h'"}],"mark":{"type":"text","fontSize":5.5,"fontWeight":"bold","align":"right","color":"#222"},"encoding":{"text":{"field":"ci"},"x":{"datum":3.57}}},{"data":{"values":[{"t":"C"}]},"mark":{"type":"text","fontSize":14,"color":"#111"},"encoding":{"text":{"field":"t"},"x":{"datum":-5.14,"scale":{"domain":[-4.61,3.72],"nice":false}},"y":{"datum":-9.3,"scale":{"domain":[-12,193],"reverse":true,"nice":false}}}}]}],"spacing":28,"bounds":"flush"}],"spacing":2}
